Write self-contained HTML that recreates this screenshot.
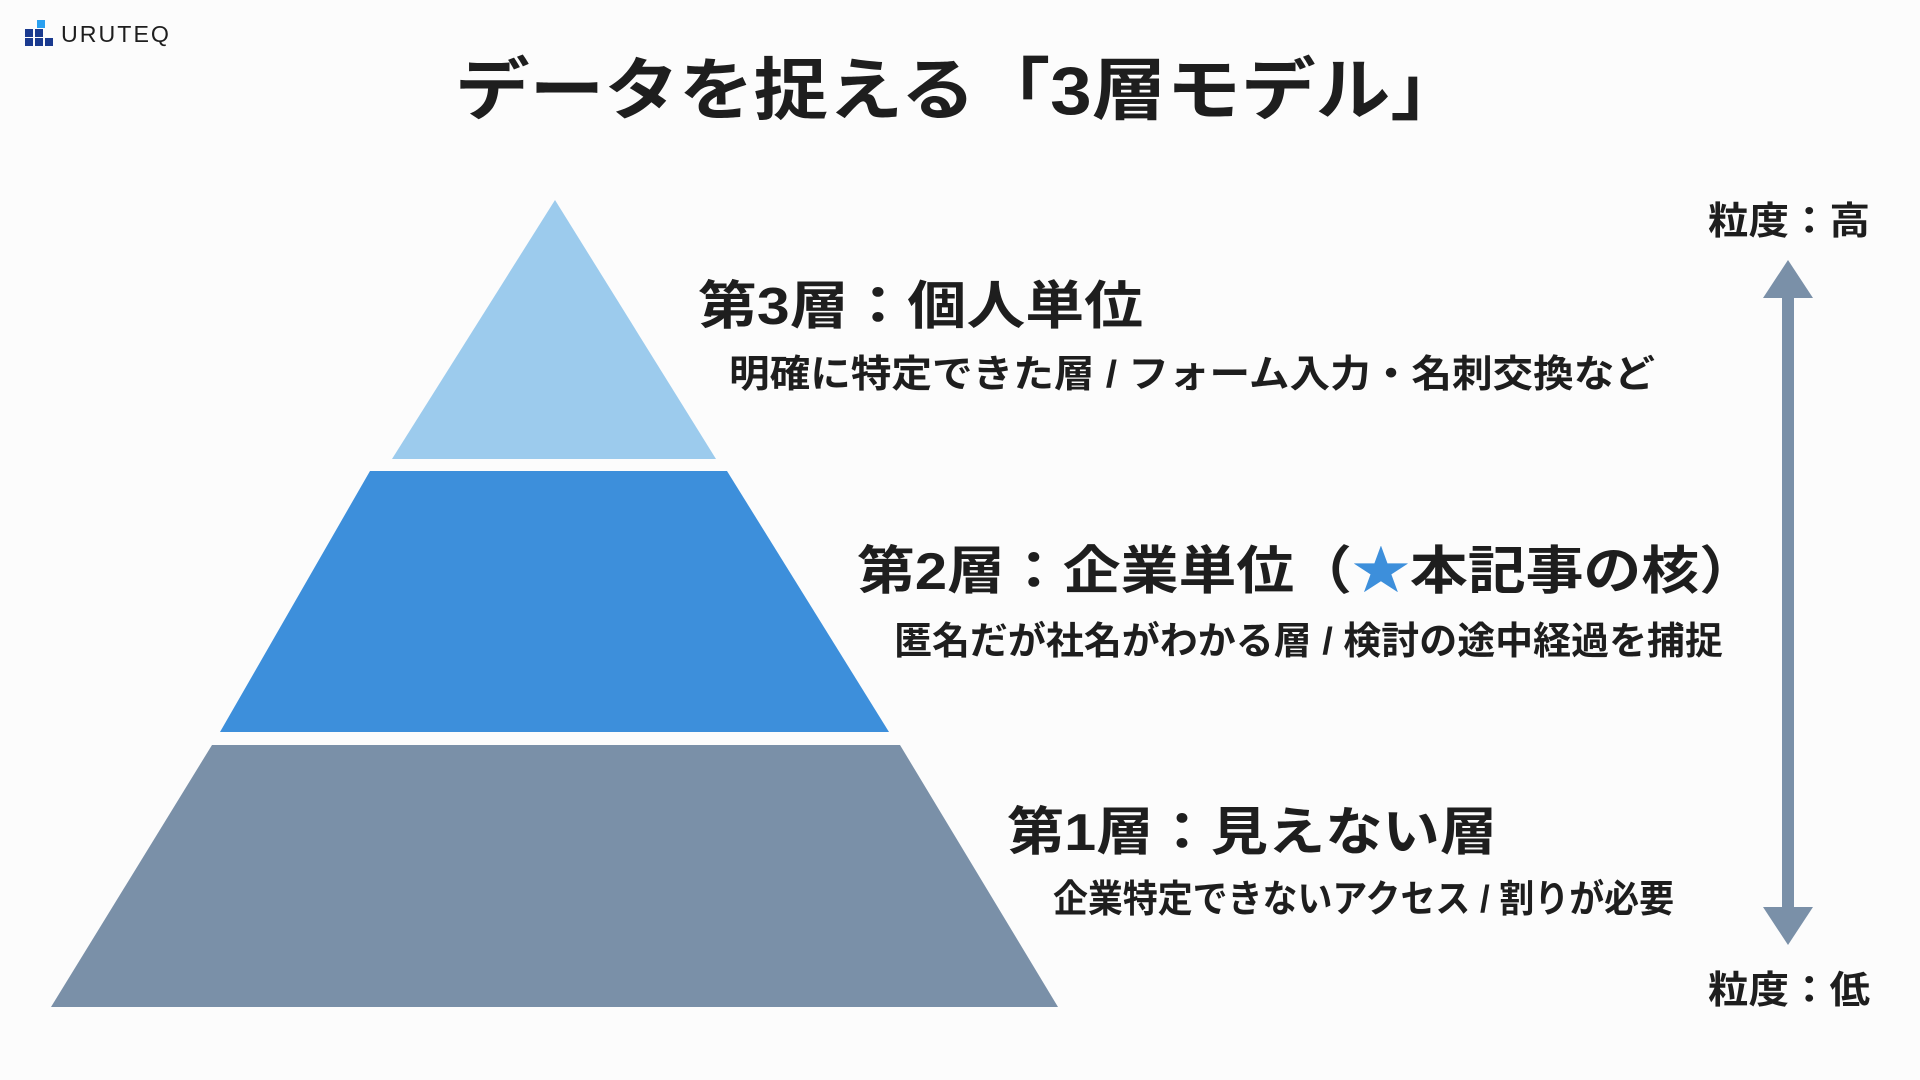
<!DOCTYPE html>
<html><head><meta charset="utf-8"><style>
html,body{margin:0;padding:0;background:#fcfcfc;}
svg{display:block;}
text{font-family:"Liberation Sans","Noto Sans CJK JP",sans-serif;font-weight:bold;fill:#1e1e1e;}
</style></head><body>
<svg width="1920" height="1080" viewBox="0 0 1920 1080" xmlns="http://www.w3.org/2000/svg">
<rect width="1920" height="1080" fill="#fcfcfc"/>
<!-- logo -->
<rect x="37" y="20" width="8" height="8" fill="#2aa0f0"/>
<rect x="25" y="29" width="8" height="8" fill="#1a3a8f"/>
<rect x="35" y="29" width="8" height="8" fill="#1a3a8f"/>
<rect x="25" y="38" width="8" height="8" fill="#1a3a8f"/>
<rect x="35" y="38" width="8" height="8" fill="#1a3a8f"/>
<rect x="45" y="38" width="8" height="8" fill="#1a3a8f"/>
<text x="61" y="42" font-size="23" textLength="110" lengthAdjust="spacingAndGlyphs" style="font-weight:normal;letter-spacing:2px">URUTEQ</text>
<!-- title -->
<text x="455" y="114" font-size="68" textLength="1010" lengthAdjust="spacingAndGlyphs">データを捉える「3層モデル」</text>
<!-- pyramid -->
<polygon points="555,200 716,459 392,459" fill="#9ccbed"/>
<polygon points="370,471 727,471 889,732 220,732" fill="#3d8fdb"/>
<polygon points="212,745 900,745 1058,1007 51,1007" fill="#7a90a8"/>
<!-- labels -->
<text x="698" y="324" font-size="52" textLength="445" lengthAdjust="spacingAndGlyphs">第3層：個人単位</text>
<text x="729" y="387" font-size="38" textLength="926" lengthAdjust="spacingAndGlyphs">明確に特定できた層 / フォーム入力・名刺交換など</text>
<text x="857" y="589" font-size="52" textLength="900" lengthAdjust="spacingAndGlyphs">第2層：企業単位（<tspan style="fill:#3d8fdb">★</tspan>本記事の核）</text>
<text x="894" y="654" font-size="38" textLength="829" lengthAdjust="spacingAndGlyphs">匿名だが社名がわかる層 / 検討の途中経過を捕捉</text>
<text x="1007" y="850" font-size="52" textLength="490" lengthAdjust="spacingAndGlyphs">第1層：見えない層</text>
<text x="1053" y="912" font-size="38" textLength="621" lengthAdjust="spacingAndGlyphs">企業特定できないアクセス / 割りが必要</text>
<!-- arrow -->
<text x="1708" y="234" font-size="38" textLength="162" lengthAdjust="spacingAndGlyphs">粒度：高</text>
<text x="1708" y="1003" font-size="38" textLength="162" lengthAdjust="spacingAndGlyphs">粒度：低</text>
<rect x="1782" y="290" width="12" height="620" fill="#7a90a8"/>
<polygon points="1788,260 1813,298 1763,298" fill="#7a90a8"/>
<polygon points="1788,945 1813,907 1763,907" fill="#7a90a8"/>
</svg>
</body></html>
